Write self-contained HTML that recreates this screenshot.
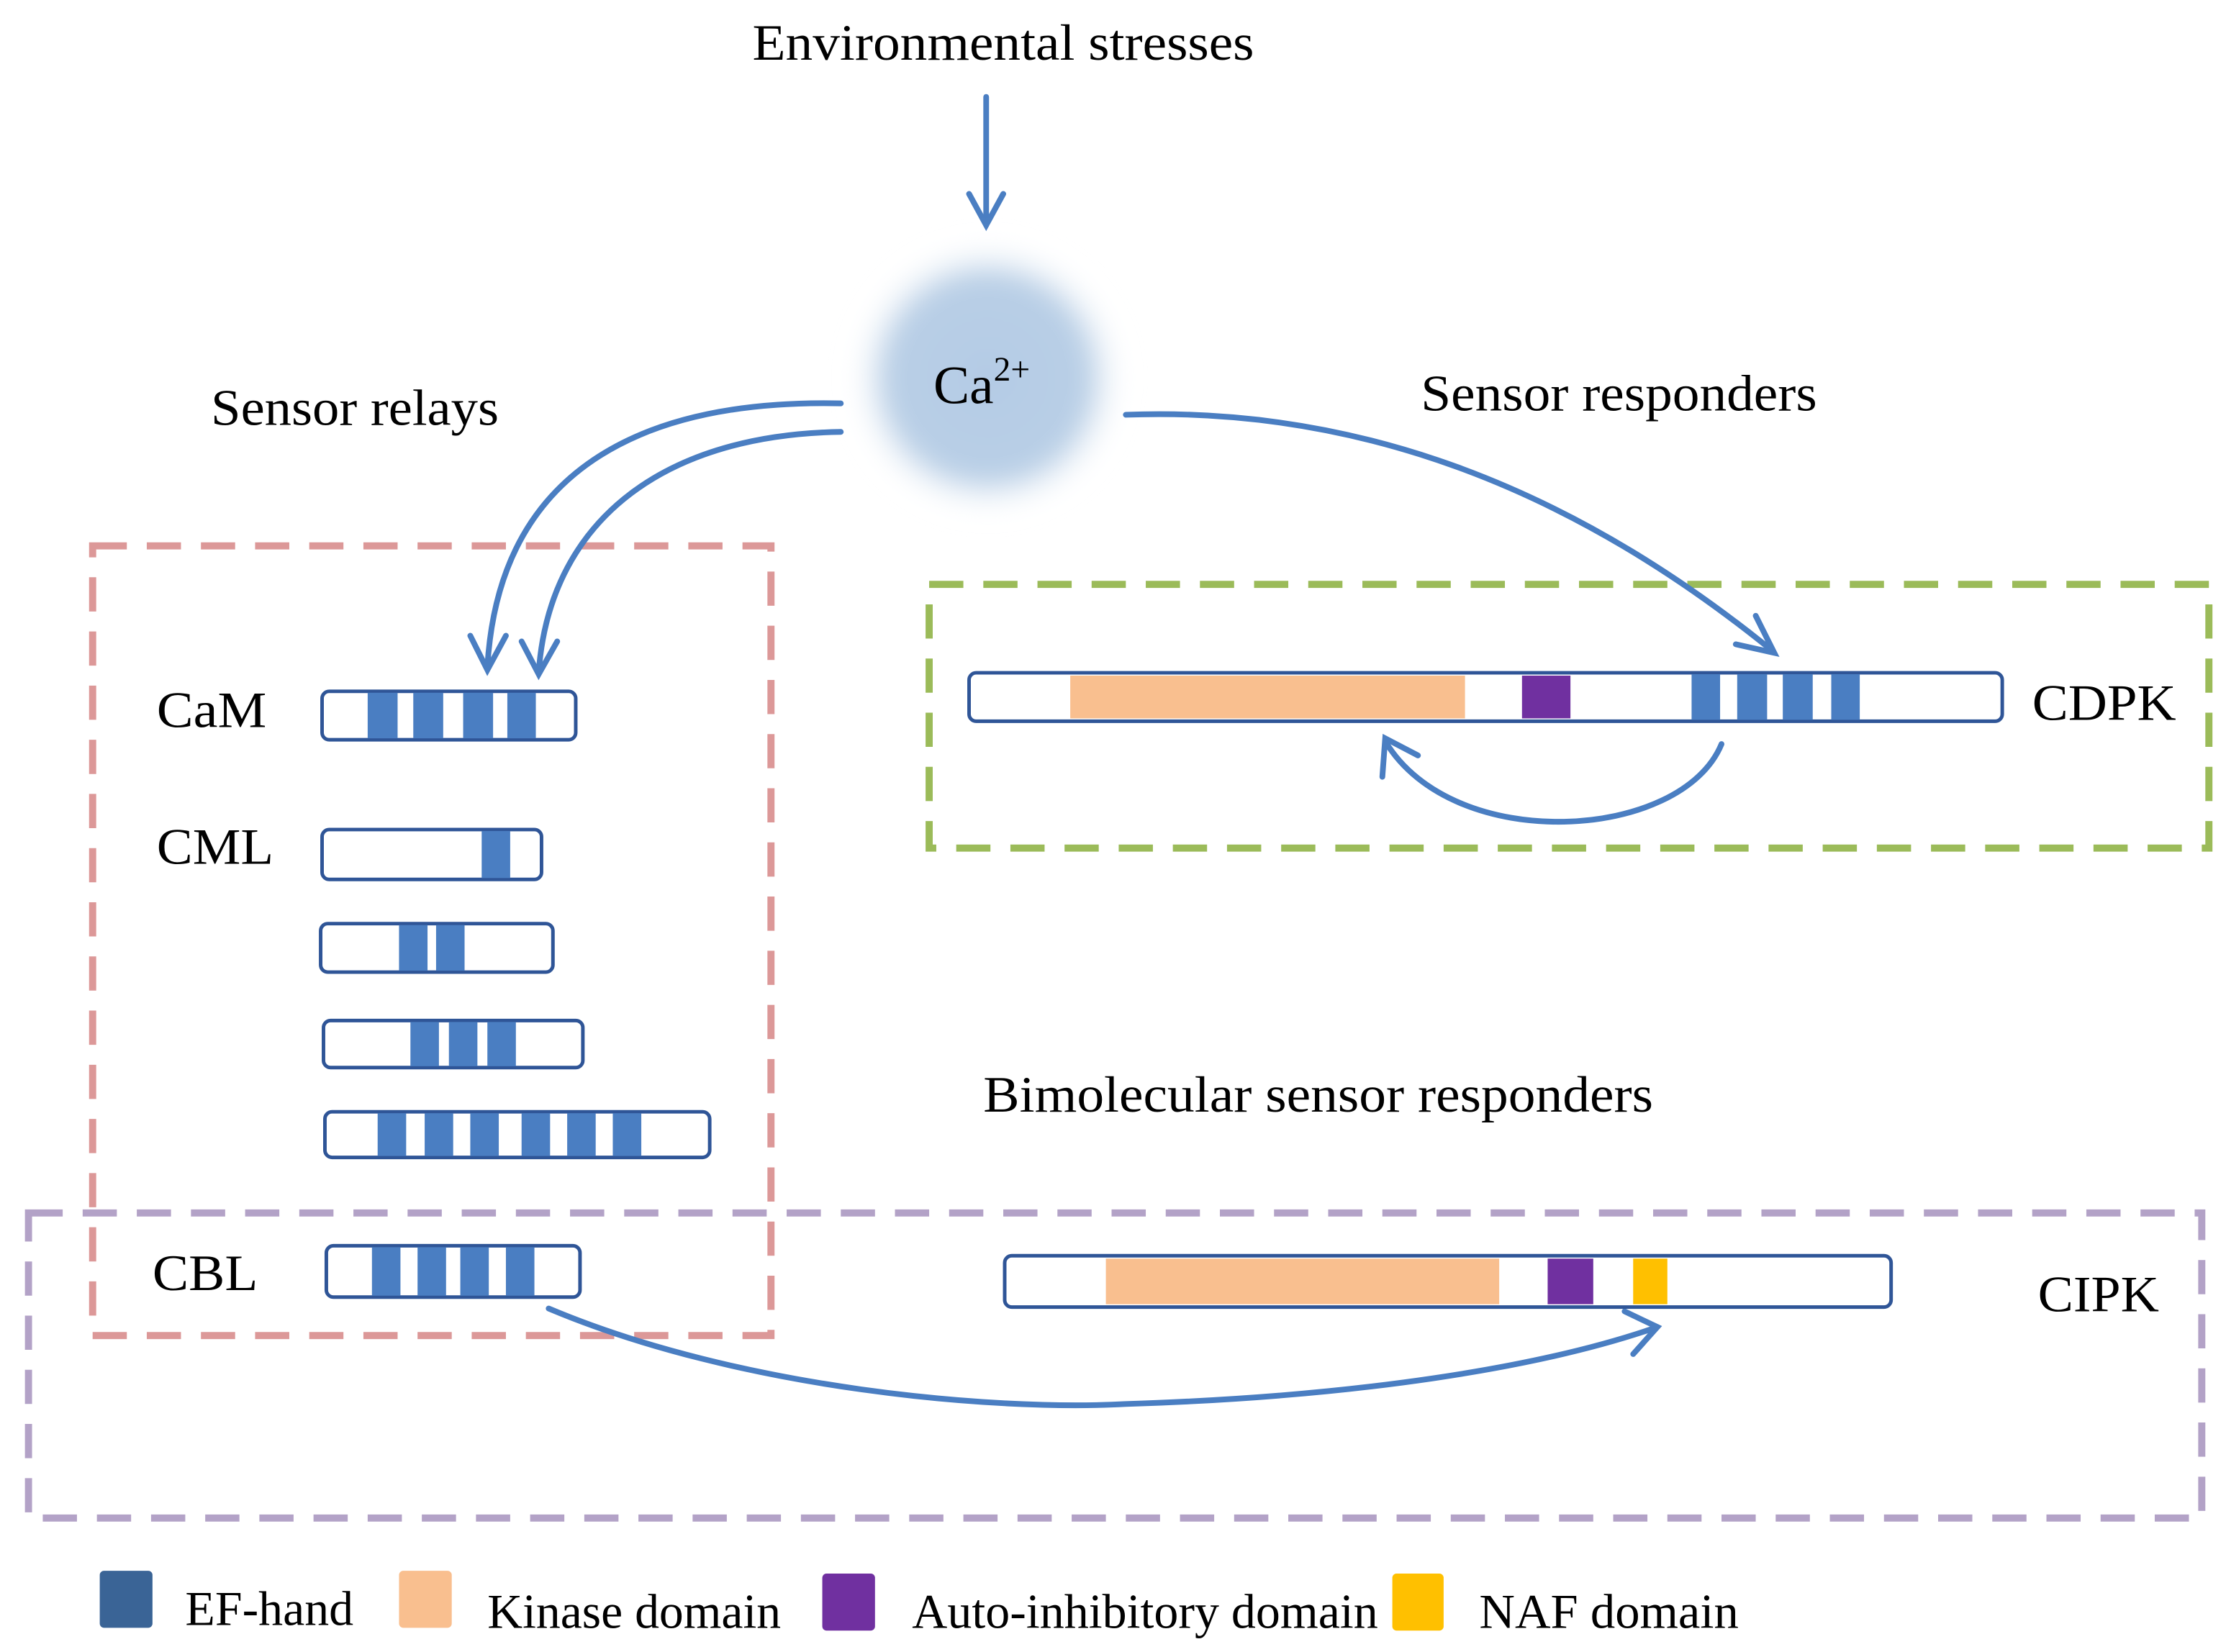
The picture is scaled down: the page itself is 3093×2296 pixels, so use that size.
<!DOCTYPE html>
<html><head><meta charset="utf-8"><style>
html,body{margin:0;padding:0;background:#fff;}
svg{display:block;}
text{font-family:"Liberation Serif",serif;fill:#000;}
</style></head><body>
<svg width="3093" height="2296" viewBox="0 0 1562 1159" preserveAspectRatio="none" xmlns="http://www.w3.org/2000/svg">
<defs>
<radialGradient id="ca" cx="50%" cy="50%" r="50%">
<stop offset="0" stop-color="#b4cbe5"/>
<stop offset="0.7" stop-color="#b9cfe6"/>
<stop offset="1" stop-color="#ffffff" stop-opacity="0"/>
</radialGradient>
<filter id="bl"><feGaussianBlur stdDeviation="8"/></filter>
</defs>
<rect width="1562" height="1159" fill="#fff"/>
<text x="528" y="42" font-size="36" textLength="352" lengthAdjust="spacingAndGlyphs">Environmental stresses</text>
<g stroke="#4a7ec2" stroke-width="4" fill="none" stroke-linecap="round">
<line x1="692" y1="68" x2="692" y2="158"/>
<polyline points="680,136 692,158 704,136"/>
</g>
<circle cx="693" cy="265" r="98" fill="url(#ca)" filter="url(#bl)"/>
<text x="655" y="283" font-size="38">Ca<tspan font-size="24" dy="-16">2+</tspan></text>
<text x="148" y="298" font-size="36" textLength="202" lengthAdjust="spacingAndGlyphs">Sensor relays</text>
<text x="997" y="288" font-size="36" textLength="278" lengthAdjust="spacingAndGlyphs">Sensor responders</text>
<text x="690" y="780" font-size="36" textLength="470" lengthAdjust="spacingAndGlyphs">Bimolecular sensor responders</text>
<g fill="none" stroke-width="5" stroke-dasharray="24,14">
<rect x="65" y="383" width="476" height="554" stroke="#dc9898"/>
<rect x="652" y="410" width="898" height="185" stroke="#9bbb59"/>
<rect x="20" y="851" width="1525" height="214" stroke="#b3a2c7"/>
</g>
<g stroke="#4a7ec2" stroke-width="4" fill="none" stroke-linecap="round">
<path d="M590,283 C450,280 350,330 342,468"/>
<polyline points="330,446 342,470 355,446"/>
<path d="M590,303 C460,305 385,370 378,472"/>
<polyline points="366,450 378,473 391,450"/>
<path d="M790,291 C950,285 1100,340 1243,456"/>
<polyline points="1232,432 1245,458 1218,452"/>
<path d="M1208,522 C1180,590 1020,600 972,520"/>
<polyline points="970,545 972,518 995,530"/>
<path d="M385,918 C520,975 700,990 790,985 C950,980 1080,960 1163,931"/>
<polyline points="1140,920 1163,931 1146,950"/>
</g>
<g font-size="36">
<text x="110" y="510" textLength="77" lengthAdjust="spacingAndGlyphs">CaM</text>
<text x="110" y="606" textLength="82" lengthAdjust="spacingAndGlyphs">CML</text>
<text x="107" y="905" textLength="74" lengthAdjust="spacingAndGlyphs">CBL</text>
<text x="1426" y="505" textLength="101" lengthAdjust="spacingAndGlyphs">CDPK</text>
<text x="1430" y="920" textLength="85" lengthAdjust="spacingAndGlyphs">CIPK</text>
</g>
<g stroke="#2f5597" stroke-width="2.5" fill="#fff">
<rect x="226" y="485" width="178" height="34" rx="5"/>
<rect x="226" y="582" width="154" height="35" rx="5"/>
<rect x="225" y="648" width="163" height="34" rx="5"/>
<rect x="227" y="716" width="182" height="33" rx="5"/>
<rect x="228" y="780" width="270" height="32" rx="5"/>
<rect x="229" y="874" width="178" height="36" rx="5"/>
<rect x="680" y="472" width="725" height="34" rx="5"/>
<rect x="705" y="881" width="622" height="36" rx="5"/>
</g>
<g fill="#4a7ec2">
<rect x="258" y="486" width="21" height="32"/><rect x="290" y="486" width="21" height="32"/><rect x="325" y="486" width="21" height="32"/><rect x="356" y="486" width="20" height="32"/>
<rect x="338" y="583" width="20" height="33"/>
<rect x="280" y="649" width="20" height="32"/><rect x="306" y="649" width="20" height="32"/>
<rect x="288" y="717" width="20" height="31"/><rect x="315" y="717" width="20" height="31"/><rect x="342" y="717" width="20" height="31"/>
<rect x="265" y="781" width="20" height="30"/><rect x="298" y="781" width="20" height="30"/><rect x="330" y="781" width="20" height="30"/><rect x="366" y="781" width="20" height="30"/><rect x="398" y="781" width="20" height="30"/><rect x="430" y="781" width="20" height="30"/>
<rect x="261" y="875" width="20" height="34"/><rect x="293" y="875" width="20" height="34"/><rect x="323" y="875" width="20" height="34"/><rect x="355" y="875" width="20" height="34"/>
<rect x="1187" y="473" width="20" height="32"/><rect x="1219" y="473" width="21" height="32"/><rect x="1251" y="473" width="21" height="32"/><rect x="1285" y="473" width="20" height="32"/>
</g>
<rect x="751" y="474" width="277" height="30" fill="#f9bf8f"/>
<rect x="1068" y="474" width="34" height="30" fill="#7030a0"/>
<rect x="776" y="883" width="276" height="32" fill="#f9bf8f"/>
<rect x="1086" y="883" width="32" height="32" fill="#7030a0"/>
<rect x="1146" y="883" width="24" height="32" fill="#ffc000"/>
<rect x="70" y="1102" width="37" height="40" rx="3" fill="#3a6496"/>
<rect x="280" y="1102" width="37" height="40" rx="3" fill="#f9bf8f"/>
<rect x="577" y="1104" width="37" height="40" rx="3" fill="#7030a0"/>
<rect x="977" y="1104" width="36" height="40" rx="3" fill="#ffc000"/>
<g font-size="34">
<text x="130" y="1140" textLength="118" lengthAdjust="spacingAndGlyphs">EF-hand</text>
<text x="342" y="1142" textLength="206" lengthAdjust="spacingAndGlyphs">Kinase domain</text>
<text x="640" y="1142" textLength="327" lengthAdjust="spacingAndGlyphs">Auto-inhibitory domain</text>
<text x="1038" y="1142" textLength="182" lengthAdjust="spacingAndGlyphs">NAF domain</text>
</g>
</svg>
</body></html>
